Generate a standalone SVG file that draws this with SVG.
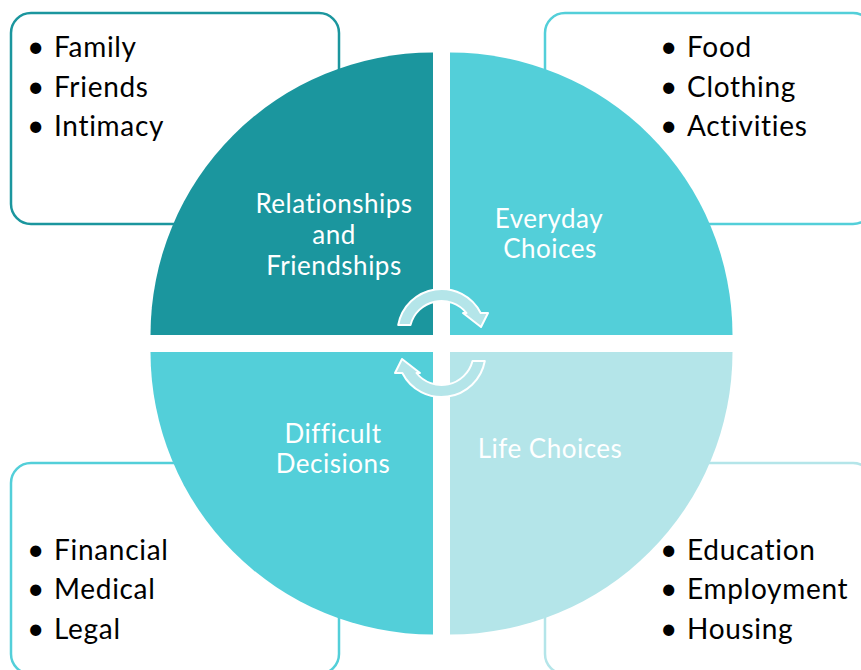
<svg xmlns="http://www.w3.org/2000/svg" width="861" height="670" viewBox="0 0 861 670">
  <style>
    .box { fill: #ffffff; stroke-width: 2.5; }
    .item { font-family: Lato, "Open Sans", sans-serif; font-size: 28px; letter-spacing: 0.7px; fill: #000000; }
    .dot { font-family: Lato, "Open Sans", sans-serif; font-size: 30px; fill: #000000; }
    .label { font-family: Lato, "Open Sans", sans-serif; font-size: 26px; letter-spacing: 0.5px; fill: #ffffff; text-anchor: middle; }
    .cycle { fill: #b4e5e9; stroke: #ffffff; stroke-width: 2; stroke-linejoin: round; }
  </style>

  <rect width="861" height="670" fill="#ffffff"/>

  <!-- outer list boxes (sit behind the quarter circles) -->
  <g id="box-relationships">
    <rect class="box" x="11" y="13" width="328" height="211" rx="20" stroke="#1b969e"/>
    <text class="dot" x="27" y="57">•</text>
    <text class="item" x="54" y="57">Family</text>
    <text class="dot" x="27" y="97">•</text>
    <text class="item" x="54" y="97">Friends</text>
    <text class="dot" x="27" y="136">•</text>
    <text class="item" x="54" y="136">Intimacy</text>
  </g>

  <g id="box-everyday">
    <rect class="box" x="545" y="13" width="328" height="211" rx="20" stroke="#53cfd9"/>
    <text class="dot" x="660" y="57">•</text>
    <text class="item" x="687" y="57">Food</text>
    <text class="dot" x="660" y="97">•</text>
    <text class="item" x="687" y="97">Clothing</text>
    <text class="dot" x="660" y="136">•</text>
    <text class="item" x="687" y="136">Activities</text>
  </g>

  <g id="box-difficult">
    <rect class="box" x="11" y="463" width="328" height="211" rx="20" stroke="#53cfd9"/>
    <text class="dot" x="27" y="560">•</text>
    <text class="item" x="54" y="560">Financial</text>
    <text class="dot" x="27" y="599">•</text>
    <text class="item" x="54" y="599">Medical</text>
    <text class="dot" x="27" y="639">•</text>
    <text class="item" x="54" y="639">Legal</text>
  </g>

  <g id="box-life">
    <rect class="box" x="545" y="463" width="328" height="211" rx="20" stroke="#b4e5e9"/>
    <text class="dot" x="660" y="560">•</text>
    <text class="item" x="687" y="560">Education</text>
    <text class="dot" x="660" y="599">•</text>
    <text class="item" x="687" y="599">Employment</text>
    <text class="dot" x="660" y="639">•</text>
    <text class="item" x="687" y="639">Housing</text>
  </g>

  <!-- four quarter circles -->
  <g id="q-relationships">
    <path d="M433 335 L150.5 335 A282.5 282.5 0 0 1 433 52.5 Z" fill="#1b969e"/>
    <text class="label" x="334" y="213">Relationships</text>
    <text class="label" x="334" y="244">and</text>
    <text class="label" x="334" y="275">Friendships</text>
  </g>

  <g id="q-everyday">
    <path d="M450 335 L450 52.5 A282.5 282.5 0 0 1 732.5 335 Z" fill="#53cfd9"/>
    <text class="label" x="549" y="228">Everyday</text>
    <text class="label" x="550" y="258">Choices</text>
  </g>

  <g id="q-difficult">
    <path d="M433 352 L433 634.5 A282.5 282.5 0 0 1 150.5 352 Z" fill="#53cfd9"/>
    <text class="label" x="333" y="443">Difficult</text>
    <text class="label" x="333" y="473">Decisions</text>
  </g>

  <g id="q-life">
    <path d="M450 352 L732.5 352 A282.5 282.5 0 0 1 450 634.5 Z" fill="#b4e5e9"/>
    <text class="label" x="550" y="458">Life Choices</text>
  </g>

  <!-- circular arrows in the centre -->
  <g id="connectors">
    <path id="cycle-top" class="cycle" d="M398.2 325 A44 44 0 0 1 480.7 313 L488 313 L481 327 L463 313 L466.5 313 A32 32 0 0 0 410.5 325 Z"/>
    <path id="cycle-bottom" class="cycle" transform="rotate(180 441.5 343)" d="M398.2 325 A44 44 0 0 1 480.7 313 L488 313 L481 327 L463 313 L466.5 313 A32 32 0 0 0 410.5 325 Z"/>
  </g>
</svg>
